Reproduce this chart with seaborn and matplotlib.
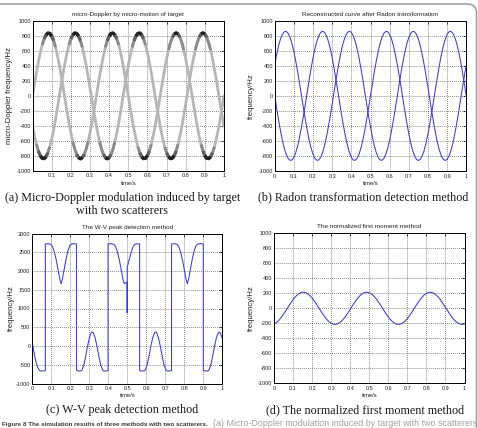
import numpy as np
import matplotlib
matplotlib.use("Agg")
import matplotlib.pyplot as plt
import seaborn as sns
from matplotlib import font_manager
from matplotlib.patches import FancyBboxPatch

# ---------------- data ----------------
time_s = np.round(np.linspace(0.0, 1.0, 101), 2)

# (a) micro-Doppler of the two scatterers (spectrogram ridges)
md_scatterer1 = [0, 157, 309, 450, 575, 680, 760, 814, 838, 833,
                 799, 736, 647, 535, 405, 260, 105, -53, -209, -358,
                 -494, -612, -709, -781, -825, -840, -825, -781, -709, -612,
                 -494, -358, -209, -53, 105, 260, 405, 535, 647, 736,
                 799, 833, 838, 814, 760, 680, 575, 450, 309, 157,
                 0, -157, -309, -450, -575, -680, -760, -814, -838, -833,
                 -799, -736, -647, -535, -405, -260, -105, 53, 209, 358,
                 494, 612, 709, 781, 825, 840, 825, 781, 709, 612,
                 494, 358, 209, 53, -105, -260, -405, -535, -647, -736,
                 -799, -833, -838, -814, -760, -680, -575, -450, -309, -157,
                 0]
md_scatterer2 = [-405, -535, -647, -736, -799, -833, -838, -814, -760, -680,
                 -575, -450, -309, -157, 0, 157, 309, 450, 575, 680,
                 760, 814, 838, 833, 799, 736, 647, 535, 405, 260,
                 105, -53, -209, -358, -494, -612, -709, -781, -825, -840,
                 -825, -781, -709, -612, -494, -358, -209, -53, 105, 260,
                 405, 535, 647, 736, 799, 833, 838, 814, 760, 680,
                 575, 450, 309, 157, 0, -157, -309, -450, -575, -680,
                 -760, -814, -838, -833, -799, -736, -647, -535, -405, -260,
                 -105, 53, 209, 358, 494, 612, 709, 781, 825, 840,
                 825, 781, 709, 612, 494, 358, 209, 53, -105, -260,
                 -405]

# (b) curves reconstructed after Radon transformation
radon_curve1 = [414, 548, 663, 754, 818, 853, 858, 833, 778, 696,
                589, 461, 317, 161, 0, -161, -317, -461, -589, -696,
                -778, -833, -858, -853, -818, -754, -663, -548, -414, -266,
                -108, 54, 214, 366, 506, 627, 726, 800, 845, 860,
                845, 800, 726, 627, 506, 366, 214, 54, -108, -266,
                -414, -548, -663, -754, -818, -853, -858, -833, -778, -696,
                -589, -461, -317, -161, 0, 161, 317, 461, 589, 696,
                778, 833, 858, 853, 818, 754, 663, 548, 414, 266,
                108, -54, -214, -366, -506, -627, -726, -800, -845, -860,
                -845, -800, -726, -627, -506, -366, -214, -54, 108, 266,
                414]
radon_curve2 = [0, -161, -317, -461, -589, -696, -778, -833, -858, -853,
                -818, -754, -663, -548, -414, -266, -108, 54, 214, 366,
                506, 627, 726, 800, 845, 860, 845, 800, 726, 627,
                506, 366, 214, 54, -108, -266, -414, -548, -663, -754,
                -818, -853, -858, -833, -778, -696, -589, -461, -317, -161,
                0, 161, 317, 461, 589, 696, 778, 833, 858, 853,
                818, 754, 663, 548, 414, 266, 108, -54, -214, -366,
                -506, -627, -726, -800, -845, -860, -845, -800, -726, -627,
                -506, -366, -214, -54, 108, 266, 414, 548, 663, 754,
                818, 853, 858, 833, 778, 696, 589, 461, 317, 161,
                0]

# (c) W-V peak detection result
wv_time = [0.000, 0.008, 0.018, 0.028, 0.038, 0.043, 0.055, 0.069,
           0.069, 0.082, 0.097, 0.107, 0.117, 0.127, 0.137, 0.145, 0.152, 0.159,
           0.167, 0.177, 0.187, 0.197, 0.207, 0.220, 0.233,
           0.233, 0.245, 0.256, 0.261, 0.271, 0.281, 0.291, 0.301, 0.311, 0.316,
           0.321, 0.331, 0.341, 0.351, 0.361, 0.371, 0.376, 0.388, 0.399,
           0.399, 0.412, 0.429, 0.439, 0.449, 0.459, 0.469, 0.477, 0.484, 0.490,
           0.4995, 0.4995, 0.500, 0.510, 0.520, 0.530, 0.540, 0.550, 0.565,
           0.565, 0.578, 0.589, 0.594, 0.604, 0.614, 0.624, 0.634, 0.644, 0.649,
           0.654, 0.664, 0.674, 0.684, 0.694, 0.704, 0.709, 0.721, 0.733,
           0.733, 0.746, 0.761, 0.771, 0.781, 0.791, 0.801, 0.809, 0.816, 0.823,
           0.831, 0.841, 0.851, 0.861, 0.871, 0.886, 0.900,
           0.900, 0.912, 0.924, 0.929, 0.939, 0.949, 0.959, 0.969, 0.979, 0.984,
           0.989, 1.000]
wv_freq = [100, -130, -390, -560, -647, -665, -668, -655,
           2720, 2728, 2715, 2650, 2500, 2280, 2010, 1790, 1660, 1790,
           2010, 2290, 2520, 2670, 2720, 2728, 2720,
           -650, -668, -665, -647, -513, -280, -10, 223, 357, 375,
           357, 223, -10, -280, -513, -647, -665, -668, -655,
           2720, 2728, 2715, 2650, 2500, 2280, 2010, 1790, 1665, 1680,
           1700, 880, 2100, 2300, 2490, 2640, 2715, 2728, 2720,
           -650, -668, -665, -647, -513, -280, -10, 223, 357, 375,
           357, 223, -10, -280, -513, -647, -665, -668, -655,
           2720, 2728, 2715, 2650, 2500, 2280, 2010, 1790, 1660, 1790,
           2010, 2290, 2520, 2670, 2720, 2728, 2720,
           -650, -668, -665, -647, -513, -280, -10, 223, 357, 375,
           357, 203]

# (d) normalized first moment
moment_freq = [-207, -194, -173, -147, -115, -79, -40, 0, 40, 79,
               115, 147, 173, 194, 207, 214, 213, 204, 188, 165,
               136, 103, 66, 27, -14, -53, -91, -126, -156, -181,
               -199, -210, -214, -210, -199, -181, -156, -126, -91, -53,
               -14, 27, 66, 103, 136, 165, 188, 204, 213, 214,
               207, 194, 173, 147, 115, 79, 40, 0, -40, -79,
               -115, -147, -173, -194, -207, -214, -213, -204, -188, -165,
               -136, -103, -66, -27, 14, 53, 91, 126, 156, 181,
               199, 210, 214, 210, 199, 181, 156, 126, 91, 53,
               14, -27, -66, -103, -136, -165, -188, -204, -213, -214,
               -207]

x_ticks = [0, 0.1, 0.2, 0.3, 0.4, 0.5, 0.6, 0.7, 0.8, 0.9, 1.0]
x_tick_labels = ["0", "0.1", "0.2", "0.3", "0.4", "0.5", "0.6", "0.7", "0.8", "0.9", "1"]
y_ticks_1000 = [-1000, -800, -600, -400, -200, 0, 200, 400, 600, 800, 1000]
y_labels_1000 = ["-1000", "-800", "-600", "-400", "-200", "0", "200", "400", "600", "800", "1000"]
y_ticks_wv = [-1000, -500, 0, 500, 1000, 1500, 2000, 2500, 3000]
y_labels_wv = ["-1000", "-500", "0", "500", "1000", "1500", "2000", "2500", "3000"]

titles = ["micro-Doppler by micro-motion of target",
          "Reconstructed curve after Radon transformation",
          "The W-V peak detection method",
          "The normalized first moment method"]
ylabels = ["micro-Doppler frequency/Hz", "frequency/Hz", "frequency/Hz", "frequency/Hz"]
captions = ["(a) Micro-Doppler modulation induced by target\nwith two scatterers",
            "(b) Radon transformation detection method",
            "(c) W-V peak detection method",
            "(d) The normalized first moment method"]
fig_caption_bold = "Figure 8 The simulation results of three methods with two scatterers."
fig_caption_rest = "(a) Micro-Doppler modulation induced by target with two scatterers"

# ---------------- style ----------------
sns.set_style("white")
names = {f.name for f in font_manager.fontManager.ttflist}
NARROW = "Liberation Sans Narrow" if "Liberation Sans Narrow" in names else "Liberation Sans"
plt.rcParams["font.family"] = ["Liberation Sans", "DejaVu Sans"]

W, H = 478, 428
fig = plt.figure(figsize=(W / 100, H / 100), dpi=100)
fig.patch.set_facecolor("white")

# page frame (rounded corner, top right)
bg = fig.add_axes([0, 0, 1, 1], zorder=-5)
bg.set_xlim(0, W)
bg.set_ylim(H, 0)
bg.axis("off")
bg.add_patch(FancyBboxPatch((-40, 4), 476.5 + 40, 600,
                            boxstyle="round,pad=0,rounding_size=9",
                            fc="none", ec="#9c9c9c", lw=1.1))


def px_axes(left, top, right, bottom):
    return fig.add_axes([left / W, 1 - bottom / H, (right - left) / W, (bottom - top) / H])


BLUE = "#3c3cd2"
TICK_FS = 4.0


def style(ax, yt, yl, title, ylabel, ylab_x, xt=x_ticks, xl=x_tick_labels, ylim=(-1000, 1000)):
    ax.set_xlim(0, 1)
    ax.set_ylim(*ylim)
    ax.set_xticks(xt, xl, fontsize=TICK_FS, fontfamily=NARROW)
    ax.set_yticks(yt, yl, fontsize=TICK_FS, fontfamily=NARROW)
    ax.set_axisbelow(True)
    ax.grid(True, color="#4a4a4a", ls=(0, (1, 1.6)), lw=0.55)
    ax.tick_params(direction="in", length=2, width=0.5, top=True, right=True,
                   colors="black", labelcolor="#222222")
    ax.tick_params(axis="x", pad=2.0)
    ax.tick_params(axis="y", pad=1.2)
    for s in ax.spines.values():
        s.set_visible(True)
        s.set_color("black")
        s.set_linewidth(0.7)
    ax.set_title(title, fontsize=4.6, fontfamily=NARROW, pad=3.5, color="#222222")
    ax.set_xlabel("time/s", fontsize=4.2, fontfamily=NARROW, labelpad=1.5, color="#222222")
    ax.set_ylabel(ylabel, fontsize=5.6, color="#222222")
    ax.yaxis.set_label_coords(ylab_x, 0.5)


# ---- (a) ----
ax_a = px_axes(32.6, 21, 224, 170.7)
for vals in (md_scatterer1, md_scatterer2):
    sns.lineplot(x=time_s, y=vals, ax=ax_a, color="#b6b6b6", lw=2.0,
                 estimator=None, sort=False, legend=False)
    arr = np.asarray(vals, dtype=float)
    for thr, col, lw in [(600, "#8c8c8c", 2.1), (720, "#5e5e5e", 2.3), (790, "#222222", 2.4)]:
        ax_a.plot(time_s, np.where(np.abs(arr) >= thr, arr, np.nan), color=col, lw=lw,
                  solid_capstyle="butt")
style(ax_a, y_ticks_1000, y_labels_1000, titles[0], ylabels[0], -0.10,
      xt=x_ticks[1:], xl=x_tick_labels[1:])

# ---- (b) ----
ax_b = px_axes(274.7, 20.7, 466.3, 171)
for vals in (radon_curve1, radon_curve2):
    sns.lineplot(x=time_s, y=vals, ax=ax_b, color=BLUE, lw=0.75,
                 estimator=None, sort=False, legend=False)
style(ax_b, y_ticks_1000, y_labels_1000, titles[1], ylabels[1], -0.105)

# ---- (c) ----
ax_c = px_axes(32.2, 233.5, 222.3, 383.5)
sns.lineplot(x=wv_time, y=wv_freq, ax=ax_c, color=BLUE, lw=0.75,
             estimator=None, sort=False, legend=False)
style(ax_c, y_ticks_wv, y_labels_wv, titles[2], ylabels[2], -0.092, ylim=(-1000, 3000))

# ---- (d) ----
ax_d = px_axes(274, 233.3, 464.5, 383.3)
sns.lineplot(x=time_s, y=moment_freq, ax=ax_d, color=BLUE, lw=0.75,
             estimator=None, sort=False, legend=False)
style(ax_d, y_ticks_1000, y_labels_1000, titles[3], ylabels[3], -0.0997)

# ---- sub-captions ----
serif = ["Liberation Serif", "DejaVu Serif"]
cap_pos = [(122.5, 204.5), (363, 197.5), (122.5, 410), (365, 410)]
for (cx, cy), txt in zip(cap_pos, captions):
    fig.text(cx / W, 1 - cy / H, txt, ha="center", va="center", fontsize=8.7,
             family=serif, color="#1a1a1a", linespacing=1.1)

# ---- figure caption along the bottom edge ----
renderer = fig.canvas.get_renderer()
cap_b = fig.text(2 / W, 1 - 426.3 / H, fig_caption_bold, ha="left", va="baseline",
                 fontsize=4.6, fontweight="bold", family=[NARROW, "DejaVu Sans"], color="#3a3a3a")
wb = cap_b.get_window_extent(renderer).width
if wb > 0:
    cap_b.set_fontsize(4.6 * 206.0 / wb)
cap_r = fig.text(213 / W, 1 - 426.3 / H, fig_caption_rest, ha="left", va="baseline",
                 fontsize=4.6, family=[NARROW, "DejaVu Sans"], color="#a0a0a0")
wr = cap_r.get_window_extent(renderer).width
if wr > 0:
    cap_r.set_fontsize(4.6 * 262.0 / wr)

fig.savefig("out.png", dpi=100, facecolor="white")
